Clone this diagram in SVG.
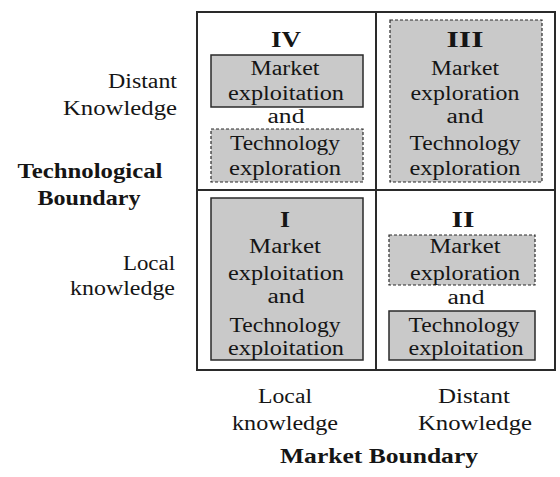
<svg xmlns="http://www.w3.org/2000/svg" width="560" height="477" viewBox="0 0 560 477">
<style>
text{font-family:"Liberation Serif",serif;font-size:20px;fill:#151515;text-anchor:middle}
.b{font-weight:bold}
.num{font-weight:bold;font-size:24px}
.end{text-anchor:end}
.box{fill:#c9c9c9;stroke:#2a2a2a;stroke-width:1.5}
.dash{fill:#c9c9c9;stroke:#2a2a2a;stroke-width:1.2;stroke-dasharray:3 2}
.grid{fill:none;stroke:#2a2a2a;stroke-width:2}
</style>
<rect width="560" height="477" fill="#ffffff"/>
<g id="grid">
<rect class="grid" x="197" y="12" width="358" height="358"/>
<line class="grid" x1="376" y1="12" x2="376" y2="370"/>
<line class="grid" x1="197" y1="190" x2="555" y2="190"/>
</g>
<g id="cell-IV">
<rect class="box" x="211" y="55" width="152" height="52"/>
<rect class="dash" x="211" y="129" width="152" height="53"/>
<text class="num" x="286" y="47" textLength="30" lengthAdjust="spacingAndGlyphs">IV</text>
<text x="285" y="75" textLength="69" lengthAdjust="spacingAndGlyphs">Market</text>
<text x="286" y="100" textLength="116" lengthAdjust="spacingAndGlyphs">exploitation</text>
<text x="286" y="123" textLength="37" lengthAdjust="spacingAndGlyphs">and</text>
<text x="285" y="150" textLength="110" lengthAdjust="spacingAndGlyphs">Technology</text>
<text x="285" y="175" textLength="112" lengthAdjust="spacingAndGlyphs">exploration</text>
</g>
<g id="cell-III">
<rect class="dash" x="390" y="20" width="152" height="162"/>
<text class="num" x="465" y="47" textLength="37" lengthAdjust="spacingAndGlyphs">III</text>
<text x="465" y="75" textLength="68" lengthAdjust="spacingAndGlyphs">Market</text>
<text x="465" y="100" textLength="109" lengthAdjust="spacingAndGlyphs">exploration</text>
<text x="465" y="123" textLength="37" lengthAdjust="spacingAndGlyphs">and</text>
<text x="465" y="150" textLength="111" lengthAdjust="spacingAndGlyphs">Technology</text>
<text x="465" y="175" textLength="111" lengthAdjust="spacingAndGlyphs">exploration</text>
</g>
<g id="cell-I">
<rect class="box" x="211" y="198" width="152" height="162"/>
<text class="num" x="285" y="227" textLength="10" lengthAdjust="spacingAndGlyphs">I</text>
<text x="285" y="253" textLength="72" lengthAdjust="spacingAndGlyphs">Market</text>
<text x="286" y="280" textLength="116" lengthAdjust="spacingAndGlyphs">exploitation</text>
<text x="286" y="303" textLength="37" lengthAdjust="spacingAndGlyphs">and</text>
<text x="285" y="332" textLength="111" lengthAdjust="spacingAndGlyphs">Technology</text>
<text x="286" y="355" textLength="116" lengthAdjust="spacingAndGlyphs">exploitation</text>
</g>
<g id="cell-II">
<rect class="dash" x="389" y="235" width="146" height="50"/>
<rect class="box" x="389" y="311" width="146" height="49"/>
<text class="num" x="463" y="227" textLength="23" lengthAdjust="spacingAndGlyphs">II</text>
<text x="465" y="253" textLength="71" lengthAdjust="spacingAndGlyphs">Market</text>
<text x="465" y="280" textLength="110" lengthAdjust="spacingAndGlyphs">exploration</text>
<text x="466" y="304" textLength="37" lengthAdjust="spacingAndGlyphs">and</text>
<text x="464" y="332" textLength="111" lengthAdjust="spacingAndGlyphs">Technology</text>
<text x="466" y="355" textLength="115" lengthAdjust="spacingAndGlyphs">exploitation</text>
</g>
<g id="axis-technological">
<text class="end" x="177" y="88" textLength="69" lengthAdjust="spacingAndGlyphs">Distant</text>
<text class="end" x="177" y="115" textLength="114" lengthAdjust="spacingAndGlyphs">Knowledge</text>
<text class="b" x="90" y="178" textLength="145" lengthAdjust="spacingAndGlyphs">Technological</text>
<text class="b" x="89" y="205" textLength="103" lengthAdjust="spacingAndGlyphs">Boundary</text>
<text class="end" x="175" y="270" textLength="52" lengthAdjust="spacingAndGlyphs">Local</text>
<text class="end" x="175" y="295" textLength="105" lengthAdjust="spacingAndGlyphs">knowledge</text>
</g>
<g id="axis-market">
<text x="285" y="403" textLength="54" lengthAdjust="spacingAndGlyphs">Local</text>
<text x="285" y="430" textLength="106" lengthAdjust="spacingAndGlyphs">knowledge</text>
<text x="474" y="403" textLength="72" lengthAdjust="spacingAndGlyphs">Distant</text>
<text x="475" y="430" textLength="114" lengthAdjust="spacingAndGlyphs">Knowledge</text>
<text class="b" x="379" y="463" textLength="198" lengthAdjust="spacingAndGlyphs">Market Boundary</text>
</g>
</svg>
